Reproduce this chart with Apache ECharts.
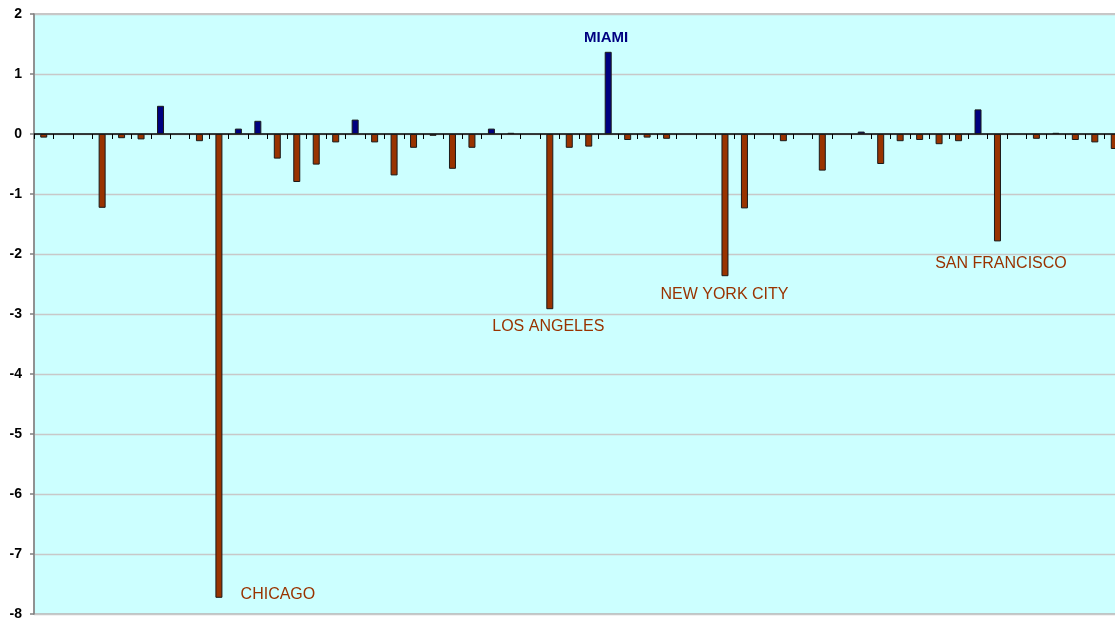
<!DOCTYPE html>
<html>
<head>
<meta charset="utf-8">
<script src="https://cdn.jsdelivr.net/npm/echarts@6/dist/echarts.min.js"></script>
<style>
html,body{margin:0;padding:0;background:#fff;overflow:hidden;}
#chart{width:1115px;height:620px;}
</style>
</head>
<body>
<div id="chart"></div>
<script>
// Categories (metro areas); only the labelled ones are known by name
const categories = [
  'M01','M02','M03','M04','M05','M06','M07','M08','M09','CHICAGO',
  'M11','M12','M13','M14','M15','M16','M17','M18','M19','M20',
  'M21','M22','M23','M24','M25','M26','LOS ANGELES','M28','M29','MIAMI',
  'M31','M32','M33','M34','M35','NEW YORK CITY','M37','M38','M39','M40',
  'M41','M42','M43','M44','M45','M46','M47','M48','M49','SAN FRANCISCO',
  'M51','M52','M53','M54','M55','M56'
];
const values = [
  -0.06, null, null, -1.23, -0.07, -0.09, 0.47, null, -0.12, -7.73,
  0.09, 0.22, -0.41, -0.80, -0.51, -0.14, 0.24, -0.14, -0.69, -0.23,
  -0.03, -0.58, -0.23, 0.09, 0.02, null, -2.92, -0.23, -0.21, 1.37,
  -0.10, -0.06, -0.08, null, null, -2.37, -1.24, null, -0.12, null,
  -0.61, null, 0.04, -0.50, -0.12, -0.10, -0.17, -0.12, 0.41, -1.79,
  null, -0.08, 0.02, -0.10, -0.14, -0.25
];
const labelledCities = ['CHICAGO', 'LOS ANGELES', 'MIAMI', 'NEW YORK CITY', 'SAN FRANCISCO'];
const yTicks = [-8, -7, -6, -5, -4, -3, -2, -1, 0, 1, 2];

const POS = '#000080', NEG = '#993300';
const FONT = '"Liberation Sans", Arial, sans-serif';
const labelOffsets = {
  'CHICAGO': [59, -3.5],
  'LOS ANGELES': [-1.5, 17.5],
  'MIAMI': [-2, -14],
  'NEW YORK CITY': [-0.5, 18],
  'SAN FRANCISCO': [3.5, 22]
};

const barData = values.map(v => v === null ? '-' : {
  value: v,
  itemStyle: { color: v >= 0 ? POS : NEG }
});

const markData = labelledCities.map(name => {
  const v = values[categories.indexOf(name)];
  const pos = v >= 0;
  return {
    name: name,
    coord: [name, v],
    label: {
      show: true,
      position: 'inside',
      formatter: name,
      offset: labelOffsets[name],
      color: pos ? POS : NEG,
      fontWeight: pos ? 'bold' : 'normal',
      fontSize: pos ? 15 : 16,
      fontFamily: FONT
    }
  };
});

const chart = echarts.init(document.getElementById('chart'), null, { renderer: 'canvas' });
chart.setOption({
  animation: false,
  backgroundColor: '#ffffff',
  grid: {
    left: 34, top: 14, height: 600, width: 1090,
    outerBoundsMode: 'none',
    show: true, backgroundColor: '#CCFFFF', borderColor: '#B4B4B4', borderWidth: 1.5,
    containLabel: false
  },
  xAxis: {
    type: 'category',
    data: categories,
    boundaryGap: true,
    axisLine: { show: true, onZero: true, lineStyle: { color: '#000000', width: 1.5 } },
    axisTick: { show: true, interval: 0, alignWithLabel: false, length: 5, lineStyle: { color: '#000000', width: 1 } },
    axisLabel: { show: false },
    splitLine: { show: false }
  },
  yAxis: {
    type: 'value',
    min: yTicks[0], max: yTicks[yTicks.length - 1], interval: 1,
    axisLine: { show: true, lineStyle: { color: '#808080', width: 1.5 } },
    axisTick: { show: true, length: 4, lineStyle: { color: '#808080', width: 1.5 } },
    axisLabel: {
      margin: 12,
      color: '#000000',
      fontWeight: 'bold',
      fontSize: 14,
      fontFamily: FONT
    },
    splitLine: { show: true, lineStyle: { color: '#C8C8C8', width: 1.3 } }
  },
  series: [{
    type: 'bar',
    data: barData,
    barWidth: 7,
    itemStyle: { borderColor: '#1a1a1a', borderWidth: 1 },
    markPoint: {
      symbol: 'rect',
      symbolSize: 1,
      itemStyle: { color: 'rgba(0,0,0,0)' },
      data: markData
    }
  }]
});
</script>
</body>
</html>
